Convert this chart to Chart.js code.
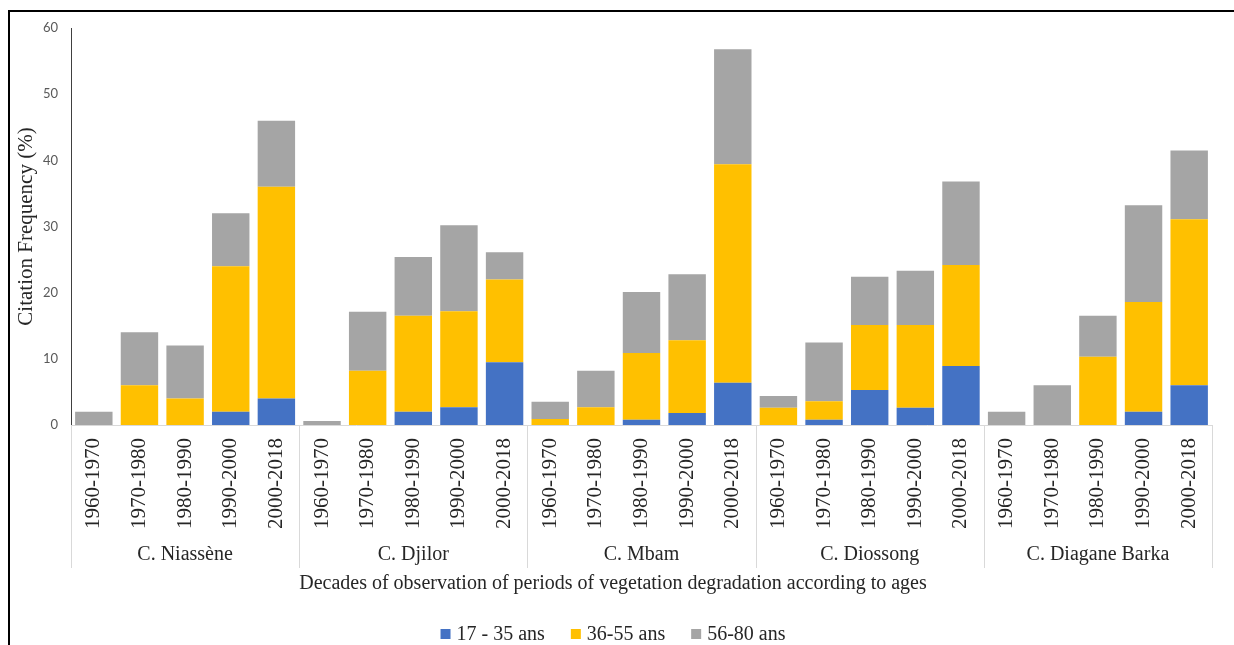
<!DOCTYPE html>
<html>
<head>
<meta charset="utf-8">
<script src="https://cdn.jsdelivr.net/npm/chart.js@4.4.1/dist/chart.umd.min.js"></script>
<style>
  html, body { margin: 0; padding: 0; background: #fff; overflow: hidden; }
  #frame {
    position: absolute; left: 8px; top: 10px; width: 1400px; height: 800px;
    border-left: 2px solid #000; border-top: 2px solid #000;
  }
  #c { position: absolute; left: 0; top: 0; }
</style>
</head>
<body>
<div id="frame"></div>
<canvas id="c" width="1234" height="645"></canvas>
<script>
// --- DATOS ---
const groups = ['C. Niassène', 'C. Djilor', 'C. Mbam', 'C. Diossong', 'C. Diagane Barka'];
const periods = ['1960-1970', '1970-1980', '1980-1990', '1990-2000', '2000-2018'];

// valores por grupo (5 períodos cada uno), en el orden de "groups"
const age17_35 = [
  0, 0, 0, 2, 4,
  0, 0, 2, 2.7, 9.5,
  0, 0, 0.8, 1.8, 6.4,
  0, 0.8, 5.3, 2.6, 8.9,
  0, 0, 0, 2, 6
];
const age36_55 = [
  0, 6, 4, 22, 32,
  0, 8.2, 14.5, 14.5, 12.5,
  0.9, 2.7, 10.1, 11, 33,
  2.6, 2.8, 9.8, 12.5, 15.3,
  0, 0, 10.3, 16.6, 25.1
];
const age56_80 = [
  2, 8, 8, 8, 10,
  0.6, 8.9, 8.9, 13, 4.1,
  2.6, 5.5, 9.2, 10, 17.4,
  1.8, 8.85, 7.3, 8.2, 12.6,
  2, 6, 6.2, 14.6, 10.4
];
const seriesNames = ['17 - 35 ans', '36-55 ans', '56-80 ans'];
const seriesColors = ['#4472C4', '#FFC000', '#A5A5A5'];
const yTicks = { min: 0, max: 60, step: 10 };
const xTitle = 'Decades of observation of periods of vegetation degradation according to ages';
const yTitle = 'Citation Frequency (%)';

const labels = groups.flatMap(() => periods);
const serif = 'Liberation Serif, Times New Roman, serif';
const textColor = '#262626';

// --- PLUGIN: grupos, título del eje X y leyenda ---
const groupPlugin = {
  id: 'groups',
  afterDraw(chart) {
    const { ctx } = chart;
    const x = chart.scales.x;
    const n = periods.length;
    ctx.save();

    // separadores de grupo
    ctx.strokeStyle = '#d9d9d9';
    ctx.lineWidth = 1;
    for (let k = 0; k <= groups.length; k++) {
      const px = Math.round(x.getPixelForValue(k * n - 0.5)) + 0.5;
      ctx.beginPath();
      ctx.moveTo(px, x.top);
      ctx.lineTo(px, 568);
      ctx.stroke();
    }

    // nombres de grupo
    ctx.fillStyle = textColor;
    ctx.font = `20px ${serif}`;
    ctx.textAlign = 'center';
    ctx.textBaseline = 'middle';
    groups.forEach((g, i) => {
      const cx = (x.getPixelForValue(i * n - 0.5) + x.getPixelForValue((i + 1) * n - 0.5)) / 2;
      ctx.fillText(g, cx, 555);
    });

    // título del eje X
    ctx.fillText(xTitle, 613, 584);

    // leyenda
    const box = 10, gapText = 6, gapItem = 26, ly = 634;
    const widths = seriesNames.map(s => ctx.measureText(s).width);
    const total = widths.reduce((a, w) => a + box + gapText + w, 0) + gapItem * (seriesNames.length - 1);
    let lx = 613 - total / 2;
    ctx.textAlign = 'left';
    seriesNames.forEach((s, i) => {
      ctx.fillStyle = seriesColors[i];
      ctx.fillRect(lx, ly - box / 2, box, box);
      ctx.fillStyle = textColor;
      ctx.fillText(s, lx + box + gapText, ly + 1);
      lx += box + gapText + widths[i] + gapItem;
    });
    ctx.restore();
  }
};

// --- GRÁFICO ---
new Chart(document.getElementById('c').getContext('2d'), {
  type: 'bar',
  data: {
    labels: labels,
    datasets: [
      { label: seriesNames[0], data: age17_35, backgroundColor: seriesColors[0] },
      { label: seriesNames[1], data: age36_55, backgroundColor: seriesColors[1] },
      { label: seriesNames[2], data: age56_80, backgroundColor: seriesColors[2] }
    ]
  },
  options: {
    responsive: false,
    animation: false,
    datasets: { bar: { categoryPercentage: 1, barPercentage: 0.82, borderWidth: 0 } },
    layout: { padding: { left: 10, right: 22, top: 28, bottom: 40 } },
    plugins: { legend: { display: false }, tooltip: { enabled: false } },
    scales: {
      x: {
        stacked: true,
        grid: { display: false, drawTicks: false },
        border: { color: '#d9d9d9' },
        ticks: {
          autoSkip: false, minRotation: 90, maxRotation: 90, padding: 13,
          color: textColor, font: { family: serif, size: 21 }
        },
        afterFit: (s) => { s.height = 180; }
      },
      y: {
        stacked: true,
        min: yTicks.min, max: yTicks.max,
        grid: { display: false, drawTicks: false },
        border: { color: '#404040' },
        ticks: { stepSize: yTicks.step, padding: 13, color: '#595959', font: { family: 'Lato, sans-serif', size: 13 } },
        title: {
          display: true, text: yTitle, color: textColor,
          font: { family: serif, size: 21 }, padding: { top: 4, bottom: 0 }
        },
        afterFit: (s) => { s.width = 61; }
      }
    }
  },
  plugins: [groupPlugin]
});
</script>
</body>
</html>
